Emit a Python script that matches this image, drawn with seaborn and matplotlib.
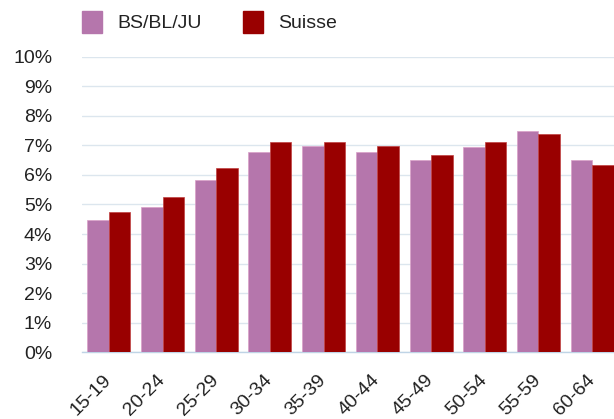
import matplotlib
matplotlib.use("Agg")
import matplotlib.pyplot as plt
from matplotlib.patches import Patch
from matplotlib.ticker import FuncFormatter
import pandas as pd
import seaborn as sns

# Age groups and share of population (%) per group
age_groups = ["15-19", "20-24", "25-29", "30-34", "35-39",
              "40-44", "45-49", "50-54", "55-59", "60-64"]
bs_bl_ju = [4.49, 4.90, 5.84, 6.79, 6.99, 6.79, 6.52, 6.93, 7.47, 6.52]
suisse = [4.76, 5.24, 6.25, 7.13, 7.13, 6.99, 6.66, 7.13, 7.40, 6.32]
series_names = ["BS/BL/JU", "Suisse"]
y_ticks = list(range(0, 11))

PINK = "#B576AC"
RED = "#990000"

df = pd.DataFrame({
    "age": age_groups * 2,
    "value": bs_bl_ju + suisse,
    "region": [series_names[0]] * len(age_groups) + [series_names[1]] * len(age_groups),
})

sns.set_theme(style="white")
plt.rcParams["font.family"] = ["Liberation Sans", "DejaVu Sans"]

fig = plt.figure(figsize=(6.14, 4.19), dpi=100)
ax = fig.add_axes([82 / 614, 66.7 / 419, 537 / 614, 295.6 / 419])

sns.barplot(data=df, x="age", y="value", hue="region", order=age_groups,
            hue_order=series_names, palette=[PINK, RED], saturation=1,
            width=0.8, edgecolor="#D9A0C8", linewidth=0.5, legend=False,
            ax=ax, zorder=3)
for bar in ax.patches[len(age_groups):]:
    bar.set_edgecolor("#C04040")

ax.set_xlim(-0.5, 9.5)
ax.set_ylim(0, 10)
ax.set_yticks(y_ticks)
ax.yaxis.set_major_formatter(FuncFormatter(lambda v, _: f"{v:.0f}%"))
ax.grid(axis="y", color="#DCE6EE", linewidth=1.0, zorder=0)
ax.set_axisbelow(True)
for side in ("top", "right", "left"):
    ax.spines[side].set_visible(False)
ax.spines["bottom"].set_color("#BFD4E6")
ax.spines["bottom"].set_linewidth(1.0)
ax.set_xlabel("")
ax.set_ylabel("")
ax.tick_params(axis="y", length=0, pad=21.5, labelsize=14, labelcolor="#222222")
ax.tick_params(axis="x", length=0, pad=18, labelsize=14, labelcolor="#222222")
for lab in ax.get_xticklabels():
    lab.set_rotation(45)
    lab.set_ha("right")
    lab.set_va("center")
    lab.set_rotation_mode("anchor")

handles = [Patch(facecolor=PINK, edgecolor=PINK), Patch(facecolor=RED, edgecolor=RED)]
fig.legend(handles, series_names, loc="upper left", ncol=2,
           bbox_to_anchor=(82 / 614, 1 - 11 / 419), frameon=False,
           fontsize=14, handlelength=1.03, handleheight=1.35,
           handletextpad=0.8, columnspacing=2.1, borderpad=0,
           borderaxespad=0, labelcolor="#222222")

fig.savefig("out.png", dpi=100)
